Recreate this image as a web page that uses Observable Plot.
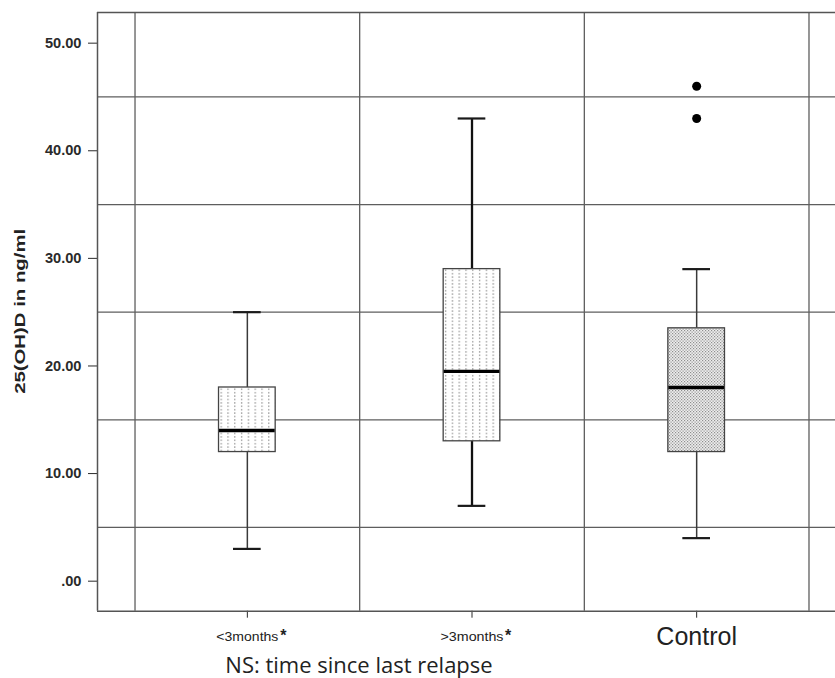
<!DOCTYPE html>
<html>
<head>
<meta charset="utf-8">
<script src="https://cdn.jsdelivr.net/npm/d3@7"></script>
<script src="https://cdn.jsdelivr.net/npm/@observablehq/plot@0.6"></script>
<style>
  html, body { margin: 0; padding: 0; background: #fff; }
  #chart svg { display: block; }
</style>
</head>
<body>
<div id="chart"></div>
<script>
// ---- data ----
const categories  = ["<3months*", ">3months*", "Control"];
const whiskerLow  = [3, 7, 4];
const q1          = [12, 13, 12];
const median      = [14, 19.5, 18];
const q3          = [18, 29, 23.5];
const whiskerHigh = [25, 43, 29];
const outlierGroup  = ["Control", "Control"];
const outlierValues = [46, 43];
const yTicks      = [0, 10, 20, 30, 40, 50];
const yTickLabels = [".00", "10.00", "20.00", "30.00", "40.00", "50.00"];
const yGridLines  = [5, 15, 25, 35, 45];
const yLabel = "25(OH)D in ng/ml";
const xTitle = "NS: time since last relapse";

// ---- derived tables ----
const idx = categories.map((_, i) => i);
const plain = c => c.replace(/\*$/, "");
const boxes = idx.map(i => ({i, low: whiskerLow[i], q1: q1[i], med: median[i], q3: q3[i], high: whiskerHigh[i]}));
const outliers = outlierValues.map((v, k) => ({i: categories.findIndex(c => plain(c) === outlierGroup[k]), v}));
const boundaries = d3.range(categories.length + 1).map(k => k - 0.5);

// ---- layout / style ----
const xDomain = [-0.667, 2.618];
const yDomain = [-2.79, 52.85];
const BOX_INSET = 84, CAP_INSET = 98.5;
const labelSize = c => plain(c) === "Control" ? 25 : 12.5;
const labelWidth = {"<3months": 62, ">3months": 63};
const whiskerW = d => d.i === 1 ? 2.3 : 1.5;
const whiskerC = d => d.i === 1 ? "#111" : "#3a3a3a";

const plot = Plot.plot({
  width: 835, height: 678,
  marginLeft: 97, marginRight: 0, marginTop: 12, marginBottom: 67.3,
  style: {fontFamily: "'Liberation Sans', Arial, sans-serif", fontSize: "14.6px", fontWeight: "bold", color: "#2a2a2a", background: "#fff"},
  x: {type: "linear", domain: xDomain, ticks: idx, tickSize: 7, tickFormat: () => "", label: null},
  y: {domain: yDomain, ticks: yTicks, tickSize: 9, tickPadding: 7, tickFormat: d => yTickLabels[yTicks.indexOf(d)], label: null},
  marks: [
    // grid
    Plot.ruleY(yGridLines, {stroke: "#5e5e5e", strokeWidth: 1.3}),
    Plot.ruleX(boundaries, {stroke: "#5e5e5e", strokeWidth: 1.3}),
    // frame (left, top, bottom)
    Plot.ruleX([xDomain[0]], {stroke: "#555", strokeWidth: 1.5}),
    Plot.ruleY(yDomain, {stroke: "#555", strokeWidth: 1.5}),
    // whiskers
    Plot.ruleX(boxes, {x: "i", y1: "low", y2: "q1", stroke: whiskerC, strokeWidth: whiskerW}),
    Plot.ruleX(boxes, {x: "i", y1: "q3", y2: "high", stroke: whiskerC, strokeWidth: whiskerW}),
    Plot.ruleY(boxes, {y: "low", x1: d => d.i - 0.5, x2: d => d.i + 0.5, insetLeft: CAP_INSET, insetRight: CAP_INSET, stroke: "#1a1a1a", strokeWidth: 2.2}),
    Plot.ruleY(boxes, {y: "high", x1: d => d.i - 0.5, x2: d => d.i + 0.5, insetLeft: CAP_INSET, insetRight: CAP_INSET, stroke: "#1a1a1a", strokeWidth: 2.2}),
    // boxes
    Plot.rect(boxes, {x1: d => d.i - 0.5, x2: d => d.i + 0.5, y1: "q1", y2: "q3", insetLeft: BOX_INSET, insetRight: BOX_INSET, fill: "#fff", stroke: "#444", strokeWidth: 1.3}),
    // medians
    Plot.ruleY(boxes, {y: "med", x1: d => d.i - 0.5, x2: d => d.i + 0.5, insetLeft: BOX_INSET + 0.5, insetRight: BOX_INSET + 0.5, stroke: "#000", strokeWidth: 3.4}),
    // outliers
    Plot.dot(outliers, {x: "i", y: "v", r: 4.5, fill: "#000", stroke: null}),
    // x tick labels
    Plot.text(idx, {x: d => d, text: d => plain(categories[d]), frameAnchor: "bottom", dy: 25.5, lineAnchor: "middle",
      fontSize: d => labelSize(categories[d]), fontWeight: "normal", fill: "#222"}),
    Plot.text(idx.filter(d => categories[d].endsWith("*")), {x: d => d, text: () => "*", frameAnchor: "bottom", dy: 24.3, dx: 33,
      textAnchor: "start", lineAnchor: "middle", fontSize: 16, fontWeight: "bold", fill: "#222"}),
    // y axis label (starts at the bottom, runs upward)
    Plot.text([yLabel], {frameAnchor: "left", dx: -77, dy: 82, rotate: -90, textAnchor: "start", lineAnchor: "middle", fontSize: 15, fontWeight: "bold", fill: "#222"}),
    // x axis title
    Plot.text([xTitle], {frameAnchor: "bottom", dx: -107.5, dy: 54.8, lineAnchor: "middle", fontFamily: "'Open Sans', sans-serif", fontSize: 22, fontWeight: "normal", fill: "#222"})
  ]
});

// patterns for box fills
const svg = d3.select(plot.tagName.toLowerCase() === "svg" ? plot : plot.querySelector("svg"));
svg.insert("defs", ":first-child").html(`
  <pattern id="dotsSparse" patternUnits="userSpaceOnUse" width="6.8" height="3.4">
    <rect width="6.8" height="3.4" fill="#fff"/>
    <rect x="3" y="1.1" width="1.2" height="1.2" fill="#7a7a7a"/>
  </pattern>
  <pattern id="dotsDense" patternUnits="userSpaceOnUse" width="3" height="3">
    <rect width="3" height="3" fill="#eeeeee"/>
    <rect x="0" y="0" width="1.2" height="1.2" fill="#8e8e8e"/>
    <rect x="1.5" y="1.5" width="1.2" height="1.2" fill="#8e8e8e"/>
  </pattern>`);
svg.selectAll("g[aria-label='rect'] rect").each(function(_, k) {
  d3.select(this).attr("fill", plain(categories[k]) === "Control" ? "url(#dotsDense)" : "url(#dotsSparse)");
});
svg.selectAll("text").each(function() {
  const t = this.textContent;
  if (t === yLabel) d3.select(this).attr("textLength", 165).attr("lengthAdjust", "spacingAndGlyphs");
  if (labelWidth[t]) d3.select(this).attr("textLength", labelWidth[t]).attr("lengthAdjust", "spacingAndGlyphs");
});

document.getElementById("chart").appendChild(plot);
</script>
</body>
</html>
